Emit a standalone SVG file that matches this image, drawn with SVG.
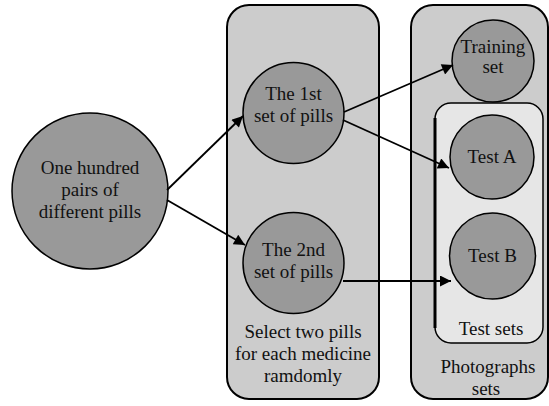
<svg xmlns="http://www.w3.org/2000/svg" width="549" height="406" viewBox="0 0 549 406">
<defs>
<style>
.panel{fill:#cccccc;stroke:#000;stroke-width:2}
.inner{fill:#e6e6e6;stroke:#000;stroke-width:1.5}
.node{fill:#999999;stroke:#000;stroke-width:1.5}
.t{font-family:"Liberation Serif","Times New Roman",serif;font-size:19px;fill:#111;text-anchor:middle}
.edge{stroke:#000;stroke-width:1.8;fill:none;marker-end:url(#ah)}
</style>
<marker id="ah" viewBox="0 0 10 10" refX="10" refY="5" markerWidth="15" markerHeight="11" markerUnits="userSpaceOnUse" orient="auto">
<path d="M0,0 L10,5 L0,10 Z" fill="#000"/>
</marker>
</defs>
<rect width="549" height="406" fill="#fff"/>
<g id="panel-select">
<rect class="panel" x="227" y="5" width="152" height="394" rx="22"/>
<text class="t" x="303" y="338">Select two pills</text>
<text class="t" x="303" y="360">for each medicine</text>
<text class="t" x="303" y="382">ramdomly</text>
</g>
<g id="panel-photographs">
<rect class="panel" x="411" y="5" width="137" height="394" rx="22"/>
<text class="t" x="488" y="373">Photographs</text>
<text class="t" x="486" y="395">sets</text>
</g>
<g id="panel-test-sets">
<rect class="inner" x="435" y="103" width="108" height="240" rx="16"/>
<line x1="435" y1="118" x2="435" y2="328" stroke="#000" stroke-width="3"/>
<text class="t" x="491" y="335">Test sets</text>
</g>
<g id="node-hundred">
<circle class="node" cx="90" cy="191" r="78"/>
<text class="t" x="90" y="174">One hundred</text>
<text class="t" x="90" y="196">pairs of</text>
<text class="t" x="90" y="218">different pills</text>
</g>
<g id="node-first">
<circle class="node" cx="293.5" cy="113" r="50.5"/>
<text class="t" x="293.5" y="100">The 1st</text>
<text class="t" x="293.5" y="122">set of pills</text>
</g>
<g id="node-second">
<circle class="node" cx="293.5" cy="263" r="50.5"/>
<text class="t" x="293.5" y="256">The 2nd</text>
<text class="t" x="293.5" y="278">set of pills</text>
</g>
<g id="node-training">
<circle class="node" cx="493" cy="61" r="41"/>
<text class="t" x="493" y="53">Training</text>
<text class="t" x="493" y="73">set</text>
</g>
<g id="node-testA">
<circle class="node" cx="492" cy="157" r="42"/>
<text class="t" x="492" y="163">Test A</text>
</g>
<g id="node-testB">
<circle class="node" cx="492.5" cy="256" r="43"/>
<text class="t" x="492.5" y="262">Test B</text>
</g>
<g id="connectors">
<line class="edge" x1="167" y1="190" x2="243" y2="116"/>
<line class="edge" x1="167" y1="200" x2="245" y2="245"/>
<line class="edge" x1="344" y1="112" x2="453" y2="65"/>
<line class="edge" x1="343" y1="120" x2="449" y2="168"/>
<line class="edge" x1="343" y1="281" x2="451" y2="281"/>
</g>
</svg>
